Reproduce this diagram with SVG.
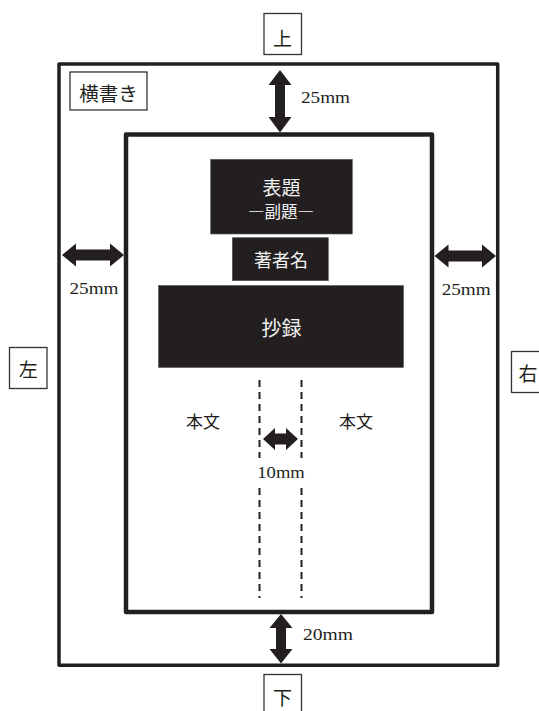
<svg xmlns="http://www.w3.org/2000/svg" width="539" height="711" viewBox="0 0 539 711">
<style>
.frame{fill:none;stroke:#231f20;stroke-linejoin:round}
.lbox{fill:#fff;stroke:#333;stroke-width:1.3}
.blk{fill:#231f20;stroke:#555;stroke-width:0.6}
.jp{font-family:"Noto Sans CJK JP","Noto Sans CJK SC",sans-serif;fill:#231f20;text-anchor:middle;dominant-baseline:central}
.wt{fill:#f2f2f2}
.num{font-family:"Liberation Serif",serif;font-size:17px;fill:#231f20}
.arr{fill:#231f20}
.dash{stroke:#231f20;stroke-width:2;stroke-dasharray:7 5;fill:none}
</style>
<rect width="539" height="711" fill="#fff"/>
<g id="page">
<rect class="frame" x="59" y="64" width="438.7" height="601.3" stroke-width="3.5"/>
</g>
<g id="text-area">
<rect class="frame" x="126" y="134.5" width="306" height="477.5" stroke-width="4.5"/>
</g>
<g id="label-top"><rect class="lbox" x="264" y="13.5" width="37.5" height="41"/><text class="jp" x="282.5" y="37" font-size="19">上</text></g>
<g id="label-bottom"><rect class="lbox" x="264" y="674.5" width="37.5" height="45"/><text class="jp" x="282.5" y="696" font-size="19">下</text></g>
<g id="label-left"><rect class="lbox" x="9.5" y="347.5" width="37.5" height="41"/><text class="jp" x="28.3" y="368.5" font-size="19">左</text></g>
<g id="label-right"><rect class="lbox" x="511.5" y="351.5" width="37.5" height="41"/><text class="jp" x="528" y="372" font-size="19">右</text></g>
<g id="label-yokogaki"><rect class="lbox" x="70" y="72" width="77" height="38"/><text class="jp" x="108.5" y="92" font-size="19.5">横書き</text></g>
<g id="title"><rect class="blk" x="210.7" y="159.3" width="141.6" height="74.7"/><text class="jp wt" x="281.5" y="186.5" font-size="19">表題</text><text class="jp wt" x="281" y="210.5" font-size="16.5">―副題―</text></g>
<g id="author"><rect class="blk" x="232.3" y="237.7" width="96" height="43"/><text class="jp wt" x="281" y="258.5" font-size="18">著者名</text></g>
<g id="abstract"><rect class="blk" x="158.5" y="285.5" width="245" height="82"/><text class="jp wt" x="281.5" y="327" font-size="20">抄録</text></g>
<g id="body-left"><text class="jp" x="203" y="420" font-size="17">本文</text></g>
<g id="body-right"><text class="jp" x="356" y="420" font-size="17">本文</text></g>
<g id="connectors">
<line class="dash" x1="259.5" y1="380" x2="259.5" y2="598"/>
<line class="dash" x1="301.5" y1="380" x2="301.5" y2="598"/>
<polygon class="arr" points="280,70 291.5,85 285,85 285,117 291.5,117 280,132.5 268.5,117 275,117 275,85 268.5,85"/>
<polygon class="arr" points="281,614 292.5,628 286,628 286,649 292.5,649 281,663.5 269.5,649 276,649 276,628 269.5,628"/>
<polygon class="arr" points="62,255 76,243.5 76,249.5 110,249.5 110,243.5 124,255 110,266.5 110,260.5 76,260.5 76,266.5"/>
<polygon class="arr" points="434.5,256 448.5,244.5 448.5,250.5 482,250.5 482,244.5 496,256 482,267.5 482,261.5 448.5,261.5 448.5,267.5"/>
<polygon class="arr" points="263,439 275,428 275,433.5 286,433.5 286,428 298,439 286,450 286,444.5 275,444.5 275,450"/>
</g>
<g id="dimensions">
<text class="num" font-family="Liberation Serif, serif" x="301" y="103" textLength="49" lengthAdjust="spacingAndGlyphs">25mm</text>
<text class="num" font-family="Liberation Serif, serif" x="69.5" y="294" textLength="49" lengthAdjust="spacingAndGlyphs">25mm</text>
<text class="num" font-family="Liberation Serif, serif" x="441.7" y="295" textLength="49" lengthAdjust="spacingAndGlyphs">25mm</text>
<rect x="255" y="458" width="50" height="26" fill="#fff"/>
<text class="num" font-family="Liberation Serif, serif" x="257.3" y="478" textLength="47.5" lengthAdjust="spacingAndGlyphs">10mm</text>
<text class="num" font-family="Liberation Serif, serif" x="303" y="640" textLength="50" lengthAdjust="spacingAndGlyphs">20mm</text>
</g>
</svg>
